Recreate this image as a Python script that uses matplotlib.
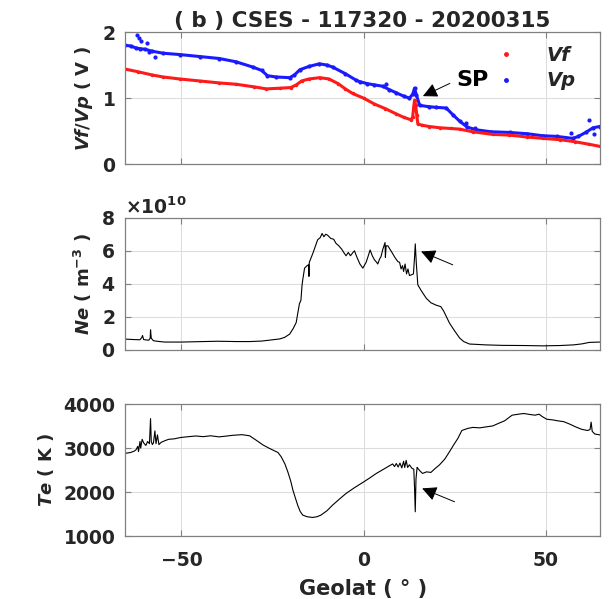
import numpy as np
import matplotlib
matplotlib.use('Agg')
import matplotlib.pyplot as plt
from matplotlib.lines import Line2D
from matplotlib.ticker import ScalarFormatter

plt.rcParams['font.family'] = 'DejaVu Sans'
plt.rcParams['font.weight'] = 'bold'
plt.rcParams['axes.labelweight'] = 'bold'
plt.rcParams['axes.titleweight'] = 'bold'
plt.rcParams['mathtext.fontset'] = 'custom'
plt.rcParams['mathtext.rm'] = 'DejaVu Sans:bold'
plt.rcParams['mathtext.it'] = 'DejaVu Sans:italic:bold'
plt.rcParams['mathtext.bf'] = 'DejaVu Sans:bold'

# ---- data ----
# Vf (floating potential), V
vf_lat = [-65.5, -62, -58, -55, -50.5, -45, -39.6, -35, -30, -26.7, -23, -20,
          -18.5, -17, -15, -12, -9.5, -7, -5, -3, 0, 3, 6, 9, 11, 13.1, 13.5,
          13.8, 14.0, 14.3, 14.6, 14.9, 16, 18, 21, 24, 26.4, 30, 35.5, 40, 45,
          49.2, 54, 58, 62, 64.8]
vf = [1.44, 1.40, 1.35, 1.32, 1.29, 1.26, 1.23, 1.21, 1.17, 1.14, 1.15, 1.16,
      1.20, 1.26, 1.29, 1.31, 1.29, 1.22, 1.14, 1.07, 1.00, 0.91, 0.84, 0.76,
      0.71, 0.67, 0.72, 0.88, 0.97, 0.90, 0.75, 0.61, 0.59, 0.57, 0.55, 0.54,
      0.53, 0.49, 0.45, 0.44, 0.41, 0.39, 0.37, 0.34, 0.30, 0.27]

# Vp (probe potential), V
vp_lat = [-65.5, -64, -62.5, -61.5, -60, -58, -55, -50.5, -45, -39.6, -35,
          -30.4, -28, -26.4, -24, -20.3, -19, -17.5, -15, -12.1, -10, -8.5, -5,
          -2, -1.1, 1, 3, 5.3, 7, 9, 11, 12.6, 13.5, 14.0, 14.5, 15.4, 18, 20,
          22.7, 24.5, 26.4, 28.5, 31, 35, 40.1, 45, 49.2, 53, 57.5, 59, 61, 63,
          64.8]
vp = [1.80, 1.79, 1.76, 1.75, 1.74, 1.71, 1.68, 1.66, 1.63, 1.60, 1.55, 1.47,
      1.42, 1.34, 1.32, 1.31, 1.35, 1.43, 1.48, 1.52, 1.50, 1.47, 1.37, 1.27,
      1.25, 1.22, 1.20, 1.18, 1.13, 1.08, 1.03, 1.00, 1.06, 1.15, 1.05, 0.89,
      0.87, 0.86, 0.85, 0.75, 0.65, 0.56, 0.52, 0.49, 0.48, 0.46, 0.43, 0.42,
      0.39, 0.42, 0.48, 0.55, 0.57]
vp_out_lat = [-62.3, -61.8, -61.0, -59.6, -58.8, -57.4, 6.3, 28.0, 30.5, 57.0, 61.8, 63.4]
vp_out = [1.95, 1.91, 1.86, 1.83, 1.70, 1.63, 1.21, 0.62, 0.55, 0.47, 0.67, 0.45]

# Ne, in units of 1e10 m^-3
ne_lat = [-65.5, -63, -61.4, -60.9, -60.7, -60.4, -59, -58.6, -58.5, -58.3,
          -57.7, -56, -54.6, -50, -46, -40, -35, -31.3, -28, -24.9, -23, -21.7,
          -20.3, -19.3, -18.5, -18, -17.6, -17.2, -16.9, -16.7, -16.2, -15.5,
          -15.1, -15.0, -14.9, -13.9, -13.2, -12.6, -11.9, -11.4, -10.9, -10.4,
          -9.9, -9, -8.2, -7.6, -6.8, -6, -5.3, -4.8, -4.2, -3.6, -2.9, -2.5,
          -1.8, -1, -0.2, 0.7, 1.3, 1.8, 2.4, 3, 3.6, 3.9, 4.4, 4.8, 5.3, 5.9,
          6.0, 6.2, 6.7, 7.1, 7.8, 8.6, 9.4, 9.9, 10.3, 10.7, 11.0, 11.4, 11.8,
          12.2, 12.6, 13.2, 13.7, 14.0, 14.2, 14.5, 14.9, 15.8, 17.2, 18.5, 20,
          21.2, 22, 23.6, 25, 26.4, 27.5, 29.1, 31, 33.4, 38, 44, 49.3, 54,
          57.7, 60, 62, 64.9]
ne = [0.65, 0.62, 0.61, 0.75, 0.87, 0.62, 0.58, 0.70, 1.21, 0.70, 0.55, 0.50,
      0.47, 0.47, 0.49, 0.52, 0.50, 0.50, 0.53, 0.61, 0.66, 0.75, 0.95, 1.30,
      1.65, 2.3, 2.8, 3.0, 3.9, 4.24, 4.95, 5.1, 5.15, 4.45, 5.3, 5.86, 6.3,
      6.67, 6.8, 7.05, 6.85, 7.0, 6.95, 6.75, 6.7, 6.46, 6.3, 6.1, 5.85, 5.7,
      5.9, 5.7, 5.9, 6.0, 5.6, 5.2, 4.95, 5.3, 5.7, 6.05, 5.7, 5.45, 5.3, 5.2,
      5.5, 5.65, 6.1, 6.5, 5.6, 6.3, 6.3, 6.15, 5.9, 5.6, 5.35, 5.3, 4.9, 5.1,
      4.75, 5.2, 4.6, 4.9, 4.5, 4.55, 4.6, 5.6, 6.42, 5.2, 3.94, 3.6, 3.13,
      2.85, 2.7, 2.62, 2.35, 1.62, 1.15, 0.71, 0.5, 0.35, 0.33, 0.30, 0.27,
      0.26, 0.24, 0.26, 0.30, 0.36, 0.45, 0.47]

# Te, K
te_lat = [-65.5, -64, -63, -62.5, -62, -61.8, -61.4, -61.2, -60.8, -60.4,
          -59.8, -59.3, -58.8, -58.5, -58.3, -58, -57.7, -57.3, -57.0, -56.6,
          -56.2, -55.6, -54.5, -53.5, -52, -50.3, -48, -46.1, -44, -42, -39.7,
          -38, -36, -33.4, -31.3, -29.5, -27.6, -26, -24.9, -23.5, -22.6, -21.6,
          -20.8, -20, -19.4, -18.7, -18.1, -17.4, -16.7, -15.5, -14, -12.8,
          -11.7, -10, -8.5, -6.5, -4.8, -2.5, -0.2, 1.5, 3.5, 5.3, 7.1, 8, 8.5,
          9.0, 9.5, 10, 10.5, 11, 11.3, 11.7, 12.1, 12.6, 13.3, 13.8, 14.0,
          14.2, 14.4, 14.7, 14.9, 15.5, 16.2, 17.3, 18.5, 19.7, 20.8, 22.3,
          23.6, 24.8, 25.9, 27, 28.6, 30, 31.9, 33.5, 35.5, 37, 38.7, 40.8,
          42.5, 44, 46, 47.1, 48.2, 49, 50.3, 52, 53.5, 55, 56.7, 58.3, 59.9,
          61.5, 62.2, 62.5, 62.8, 63.5, 64.9]
te = [2880, 2900, 2930, 2960, 3040, 2920, 3150, 3000, 3200, 3120, 3060, 3150,
      3100, 3670, 3150, 3080, 3120, 3390, 3100, 3300, 3080, 3130, 3170, 3200,
      3210, 3240, 3260, 3275, 3260, 3280, 3255, 3270, 3290, 3305, 3280, 3180,
      3070, 3000, 2955, 2900, 2800, 2640, 2460, 2250, 2045, 1860, 1705, 1560,
      1477, 1440, 1424, 1440, 1477, 1580, 1705, 1850, 1970, 2100, 2220, 2310,
      2424, 2510, 2598, 2640, 2580, 2650, 2570, 2660, 2550, 2700, 2560, 2720,
      2560, 2620, 2540, 2520, 2100, 1553, 2300, 2560, 2540, 2480, 2424, 2460,
      2447, 2540, 2614, 2750, 2917, 3080, 3220, 3400, 3447, 3470, 3460, 3480,
      3504, 3560, 3618, 3748, 3770, 3786, 3760, 3748, 3771, 3720, 3656, 3640,
      3618, 3600, 3542, 3480, 3427, 3400, 3420, 3590, 3380, 3320, 3300]

xlim = (-65.5, 65)
txt = '#262626'
spine = '#808080'
red = '#ff1a1a'
blue = '#1a1aff'

fig = plt.figure(figsize=(6.1, 5.99), dpi=100)
ax1 = fig.add_axes([0.205, 0.726, 0.779, 0.2204])
ax2 = fig.add_axes([0.205, 0.416, 0.779, 0.2204])
ax3 = fig.add_axes([0.205, 0.105, 0.779, 0.2204])


def style(ax):
    ax.set_xlim(*xlim)
    ax.set_xticks([-50, 0, 50])
    ax.grid(True, color='#dddddd', lw=0.8)
    ax.set_axisbelow(True)
    for s in ax.spines.values():
        s.set_color(spine)
        s.set_linewidth(0.9)
    ax.tick_params(direction='in', length=4, color=spine, labelcolor=txt,
                   labelsize=13.5, top=True, right=True)
    ax.tick_params(axis='y', pad=7)
    ax.tick_params(axis='x', pad=11)


for ax in (ax1, ax2, ax3):
    style(ax)

# top panel: Vf / Vp
ax1.plot(vp_lat, vp, '-', color=blue, lw=2.2, marker='.', ms=4)
ax1.plot(vp_out_lat, vp_out, '.', color=blue, ms=4, ls='none')
ax1.plot(vf_lat, vf, '-', color=red, lw=2.2, marker='.', ms=3)
ax1.set_ylim(0, 2)
ax1.set_yticks([0, 1, 2])
ax1.set_xticklabels([])
ax1.set_ylabel('$Vf/Vp$ ( V )', fontsize=13, color=txt, labelpad=5)
ax1.set_title('( b ) CSES - 117320 - 20200315', fontsize=15.5,
              fontweight='bold', color=txt, pad=4)
handles = [Line2D([], [], ls='none', marker='.', ms=5, color=red),
           Line2D([], [], ls='none', marker='.', ms=5, color=blue)]
ax1.legend(handles, ['Vf', 'Vp'], loc='upper right', frameon=False,
           bbox_to_anchor=(0.985, 1.03), handlelength=1.0, handletextpad=1.6,
           labelspacing=0.35, labelcolor=txt,
           prop={'style': 'italic', 'weight': 'bold', 'size': 14})
ax1.annotate('SP', xy=(16.3, 1.03), xytext=(25.5, 1.27), fontsize=16,
             fontweight='bold', color='black', ha='left', va='center',
             arrowprops=dict(arrowstyle='-|>', color='black', lw=0.7,
                             mutation_scale=22, relpos=(0, 0.5),
                             shrinkA=3, shrinkB=0))

# middle panel: Ne
ax2.plot(ne_lat, np.array(ne) * 1e10, '-', color='black', lw=0.8)
ax2.set_ylim(0, 8e10)
ax2.set_yticks(np.arange(0, 9e10, 2e10))
fmt = ScalarFormatter(useMathText=True)
fmt.set_powerlimits((0, 0))
ax2.yaxis.set_major_formatter(fmt)
ax2.yaxis.get_offset_text().set_fontsize(13.5)
ax2.yaxis.get_offset_text().set_color(txt)
ax2.set_xticklabels([])
ax2.set_ylabel('$Ne$ ( m$^{-3}$ )', fontsize=13, color=txt, labelpad=5)
ax2.annotate('', xy=(15.8, 5.96e10), xytext=(24.5, 5.15e10),
             arrowprops=dict(arrowstyle='-|>', color='black', lw=0.7,
                             mutation_scale=22, shrinkA=0, shrinkB=0))

# bottom panel: Te
ax3.plot(te_lat, te, '-', color='black', lw=0.8)
ax3.set_ylim(1000, 4000)
ax3.set_yticks([1000, 2000, 3000, 4000])
ax3.set_ylabel('$Te$ ( K )', fontsize=13, color=txt, labelpad=5)
ax3.set_xlabel('Geolat ( ° )', fontsize=15, color=txt, labelpad=6)
ax3.annotate('', xy=(16.1, 2084), xytext=(25.0, 1780),
             arrowprops=dict(arrowstyle='-|>', color='black', lw=0.7,
                             mutation_scale=22, shrinkA=0, shrinkB=0))

fig.savefig('out.png', dpi=100)
